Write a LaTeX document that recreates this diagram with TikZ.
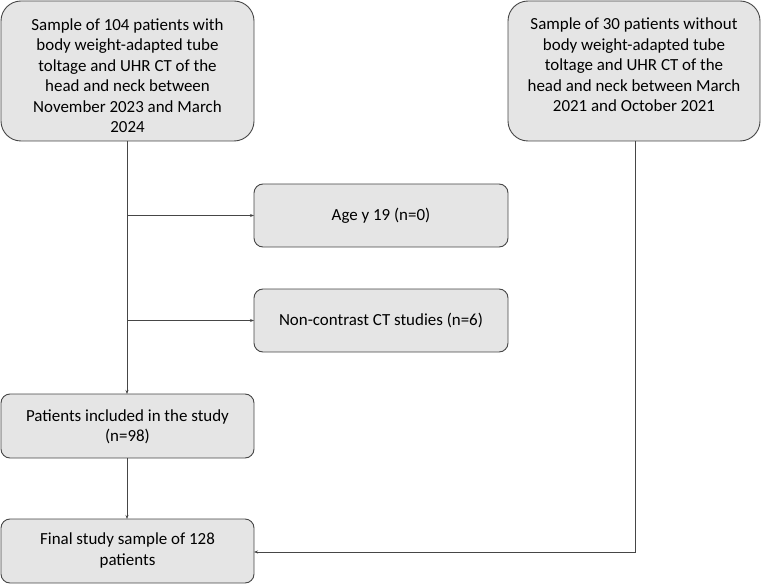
\documentclass[tikz,border=0pt]{standalone}
\usepackage{fontspec}
\setmainfont{Carlito}
\usetikzlibrary{arrows.meta}
\definecolor{boxfill}{RGB}{229,229,229}
\definecolor{lineg}{RGB}{70,70,70}
\begin{document}
\begin{tikzpicture}[x=1bp,y=-1bp,
  bigbox/.style={draw=lineg,fill=boxfill,rounded corners=20bp,line width=0.9bp},
  smallbox/.style={draw=lineg,fill=boxfill,rounded corners=9bp,line width=0.9bp},
  txt/.style={align=center,font=\fontsize{17}{20.6}\selectfont,inner sep=0pt},
  conn/.style={draw=lineg,line width=0.8bp,-{Stealth[length=4bp,width=3bp]}},
  plain/.style={draw=lineg,line width=0.8bp}]
\useasboundingbox (0,0) rectangle (762,584);
\draw[bigbox] (1,1) rectangle (254,141);
\node[txt] (b1) at (127.5,75.5) {Sample of 104 patients with\\body weight-adapted tube\\toltage and UHR CT of the\\head and neck between\\November 2023 and March\\2024};
\coordinate (b1s) at (127,141);
\draw[bigbox] (508,1) rectangle (760,141);
\node[txt] (b2) at (634,65) {Sample of 30 patients without\\body weight-adapted tube\\toltage and UHR CT of the\\head and neck between March\\2021 and October 2021};
\coordinate (b2s) at (635,141);
\draw[smallbox] (254,184) rectangle (508,247);
\node[txt] (age) at (381,215.5) {Age y 19 (n=0)};
\coordinate (agew) at (254,215.5);
\draw[smallbox] (254,289) rectangle (508,352);
\node[txt] (nc) at (381,320.5) {Non-contrast CT studies (n=6)};
\coordinate (ncw) at (254,320.5);
\draw[smallbox] (1,394) rectangle (254,458);
\node[txt] (inc) at (127.5,427) {Patients included in the study\\(n=98)};
\coordinate (incn) at (127,394);
\coordinate (incs) at (127,458);
\draw[smallbox] (1,519) rectangle (254,583);
\node[txt] (fin) at (127.5,550.5) {Final study sample of 128\\patients};
\coordinate (finn) at (127,519);
\coordinate (fine) at (254,552);
\coordinate (j1) at (127,215.5);
\coordinate (j2) at (127,320.5);
\coordinate (j3) at (635,552);
\draw[conn] (b1s) -- (incn);
\draw[conn] (j1) -- (agew);
\draw[conn] (j2) -- (ncw);
\draw[conn] (incs) -- (finn);
\draw[conn] (b2s) -- (j3) -- (fine);
\end{tikzpicture}
\end{document}
